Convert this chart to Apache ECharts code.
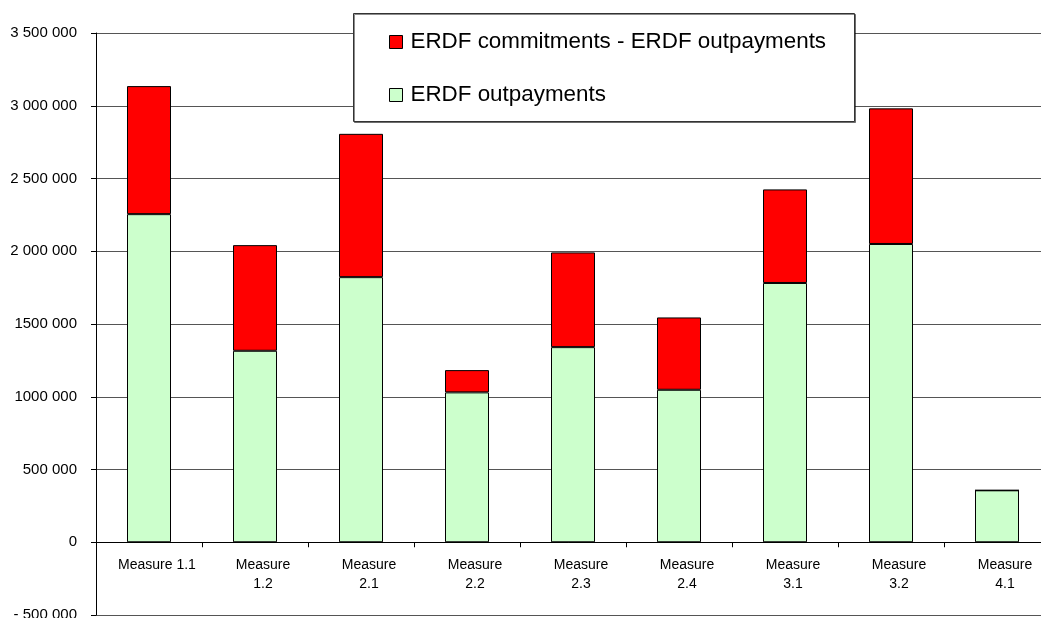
<!DOCTYPE html>
<html>
<head>
<meta charset="utf-8">
<script src="https://cdn.jsdelivr.net/npm/echarts@6/dist/echarts.min.js"></script>
<style>
html,body{margin:0;padding:0;background:#fff;}
#chart{width:1041px;height:618px;}
</style>
</head>
<body>
<div id="chart"></div>
<script>
var categories = ["Measure 1.1","Measure 1.2","Measure 2.1","Measure 2.2","Measure 2.3","Measure 2.4","Measure 3.1","Measure 3.2","Measure 4.1"];
var outpayments = [2255000, 1316000, 1822000, 1030000, 1341000, 1048000, 1782000, 2050000, 357000];
var commitmentsMinusOutpayments = [880000, 726000, 985000, 153000, 651000, 497000, 643000, 932000, 0];
var yTickLabels = ["- 500 000","0","500 000","1000 000","1500 000","2 000 000","2 500 000","3 000 000","3 500 000"];
var seriesNames = ["ERDF commitments - ERDF outpayments","ERDF outpayments"];

var chart = echarts.init(document.getElementById('chart'));
var font = 'Liberation Sans, Arial, sans-serif';
chart.setOption({
  animation: false,
  backgroundColor: '#ffffff',
  textStyle: {fontFamily: font},
  grid: {left: 96, top: 33, bottom: 3, width: 954, containLabel: false, outerBoundsMode: 'none'},
  graphic: [{
    type: 'rect', z: 3,
    shape: {x: 353.5, y: 13.5, width: 501, height: 108},
    style: {fill: '#ffffff', stroke: '#333333', lineWidth: 1,
      shadowColor: 'rgba(0,0,0,0.45)', shadowOffsetX: 1, shadowOffsetY: 1, shadowBlur: 0}
  }],
  legend: {
    z: 5,
    orient: 'vertical',
    left: 389, top: 31,
    padding: 0,
    icon: 'rect',
    itemWidth: 13, itemHeight: 13,
    itemGap: 31,
    data: [seriesNames[0], seriesNames[1]],
    textStyle: {fontFamily: font, fontSize: 22.4, color: '#000', lineHeight: 22, padding: [0,0,0,3]},
    itemStyle: {borderColor: '#000', borderWidth: 1}
  },
  xAxis: [{
    type: 'category',
    data: categories,
    axisLine: {onZero: true, lineStyle: {color: '#000', width: 1}},
    axisTick: {show: true, length: 5, lineStyle: {color: '#000'}},
    axisLabel: {show: false},
    splitLine: {show: false}
  }, {
    type: 'category',
    data: categories,
    position: 'bottom',
    offset: -73,
    axisLine: {show: false, onZero: false},
    axisTick: {show: false},
    axisLabel: {
      fontFamily: font, fontSize: 14, color: '#000', lineHeight: 19, margin: 14, interval: 0,
      padding: [0, 0, 0, 16],
      formatter: function (v, i) { return i === 0 ? v : v.replace(' ', '\n'); }
    },
    splitLine: {show: false}
  }],
  yAxis: {
    type: 'value',
    min: -500000, max: 3500000, interval: 500000,
    axisLine: {show: true, lineStyle: {color: '#000', width: 1}},
    axisTick: {show: true, length: 5, lineStyle: {color: '#000'}},
    axisLabel: {
      fontFamily: font, fontSize: 15, color: '#000', margin: 19,
      formatter: function (v) { return yTickLabels[Math.round((v + 500000) / 500000)]; }
    },
    splitLine: {show: true, lineStyle: {color: '#555', width: 1}}
  },
  series: [
    {
      name: seriesNames[1], type: 'bar', stack: 'total', barWidth: 44, xAxisIndex: 0,
      data: outpayments,
      itemStyle: {color: '#CCFFCC', borderColor: '#000', borderWidth: 1}
    },
    {
      name: seriesNames[0], type: 'bar', stack: 'total', barWidth: 44, xAxisIndex: 0,
      data: commitmentsMinusOutpayments,
      itemStyle: {color: '#FF0000', borderColor: '#000', borderWidth: 1}
    }
  ]
});
</script>
</body>
</html>
